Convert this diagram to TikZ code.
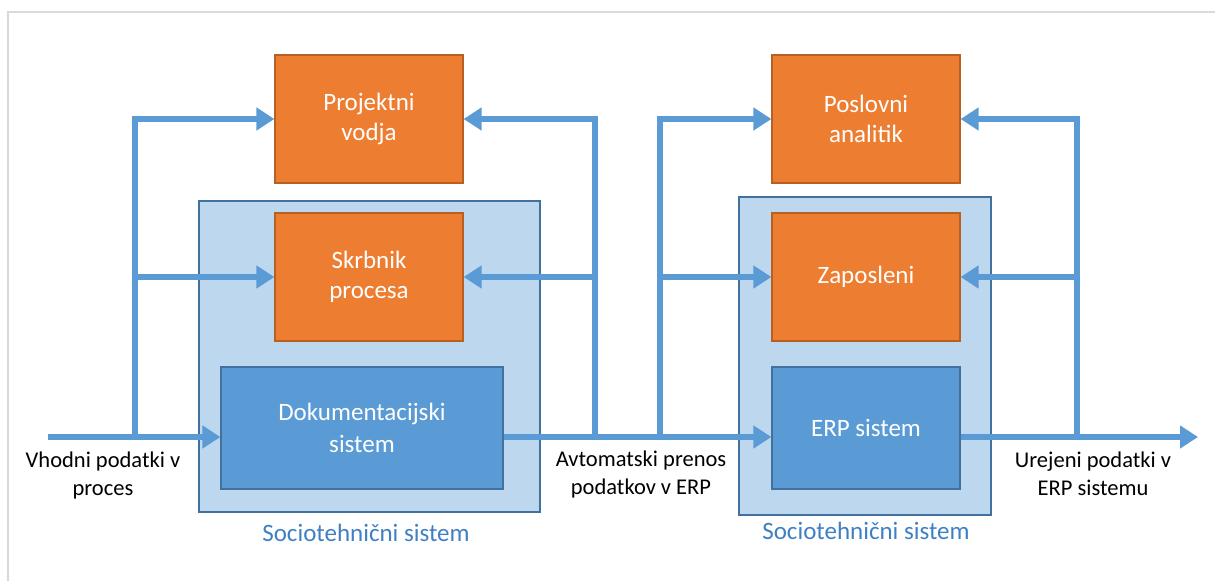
\documentclass[tikz,border=0pt]{standalone}
\usepackage{fontspec}
\setmainfont{Carlito}
\usetikzlibrary{arrows.meta}
\definecolor{oran}{HTML}{ED7D31}
\definecolor{oranline}{HTML}{B85F22}
\definecolor{blu}{HTML}{5B9BD5}
\definecolor{bluline}{HTML}{41719C}
\definecolor{lblu}{HTML}{BDD7EE}
\definecolor{labblu}{HTML}{3F7FC4}
\tikzset{
  role/.style={draw=oranline, fill=oran, line width=1.2pt, text=white,
    minimum width=188pt, minimum height=128pt, align=center,
    font=\fontsize{25}{30}\selectfont},
  tech/.style={draw=bluline, fill=blu, line width=1.2pt, text=white,
    minimum height=122pt, align=center, font=\fontsize{25}{32}\selectfont},
  frame/.style={draw=bluline, fill=lblu, line width=1.2pt},
  flow/.style={draw=blu, line width=6pt, -{Triangle[width=22pt,length=18pt]}},
  lab/.style={align=center, font=\fontsize{22.5}{28}\selectfont}
}
\begin{document}
\begin{tikzpicture}[x=1pt,y=-1pt,inner sep=0pt]
\useasboundingbox (0,0) rectangle (1215,581);
\draw[black!15, line width=1.5pt] (1215,12) -- (8,12) -- (8,581);

% sociotechnical frames
\node[frame, minimum width=341pt, minimum height=311pt] (st1) at (369.5,356.5) {};
\node[frame, minimum width=252pt, minimum height=318pt] (st2) at (865,356) {};

% people and systems
\node[role] (pv) at (369,119) {Projektni\\vodja};
\node[role] (sp) at (369,277) {Skrbnik\\procesa};
\node[tech, minimum width=282pt] (ds) at (362,428) {Dokumentacijski\\sistem};
\node[role] (pa) at (866,119) {Poslovni\\analitik};
\node[role] (zp) at (866,277) {Zaposleni};
\node[tech, minimum width=188pt] (erp) at (866,428) {ERP sistem};

\coordinate (in) at (48,437);
\coordinate (out) at (1198,437);
\coordinate (j1) at (135,437);
\coordinate (j2) at (595,437);
\coordinate (j3) at (660,437);
\coordinate (j4) at (1077,437);

% main data flow
\draw[flow] (in) -- (in -| ds.west);
\draw[flow] (ds.east |- in) -- (erp.west |- in);
\draw[flow] (erp.east |- in) -- (out);

% feedback
\draw[flow] (j1) |- (pv.west);
\draw[flow] (j1 |- sp.west) -- (sp.west);
\draw[flow] (j2) |- (pv.east);
\draw[flow] (j2 |- sp.east) -- (sp.east);
\draw[flow] (j3) |- (pa.west);
\draw[flow] (j3 |- zp.west) -- (zp.west);
\draw[flow] (j4) |- (pa.east);
\draw[flow] (j4 |- zp.east) -- (zp.east);

\node[lab] (l1) at (103,475) {Vhodni podatki v\\proces};
\node[lab] (l2) at (641,474) {Avtomatski prenos\\podatkov v ERP};
\node[lab] (l3) at (1093,474) {Urejeni podatki v\\ERP sistemu};
\node[lab, text=labblu, font=\fontsize{25}{30}\selectfont] (s1) at (366,533) {Sociotehnični sistem};
\node[lab, text=labblu, font=\fontsize{25}{30}\selectfont] (s2) at (866,531) {Sociotehnični sistem};
\end{tikzpicture}
\end{document}
